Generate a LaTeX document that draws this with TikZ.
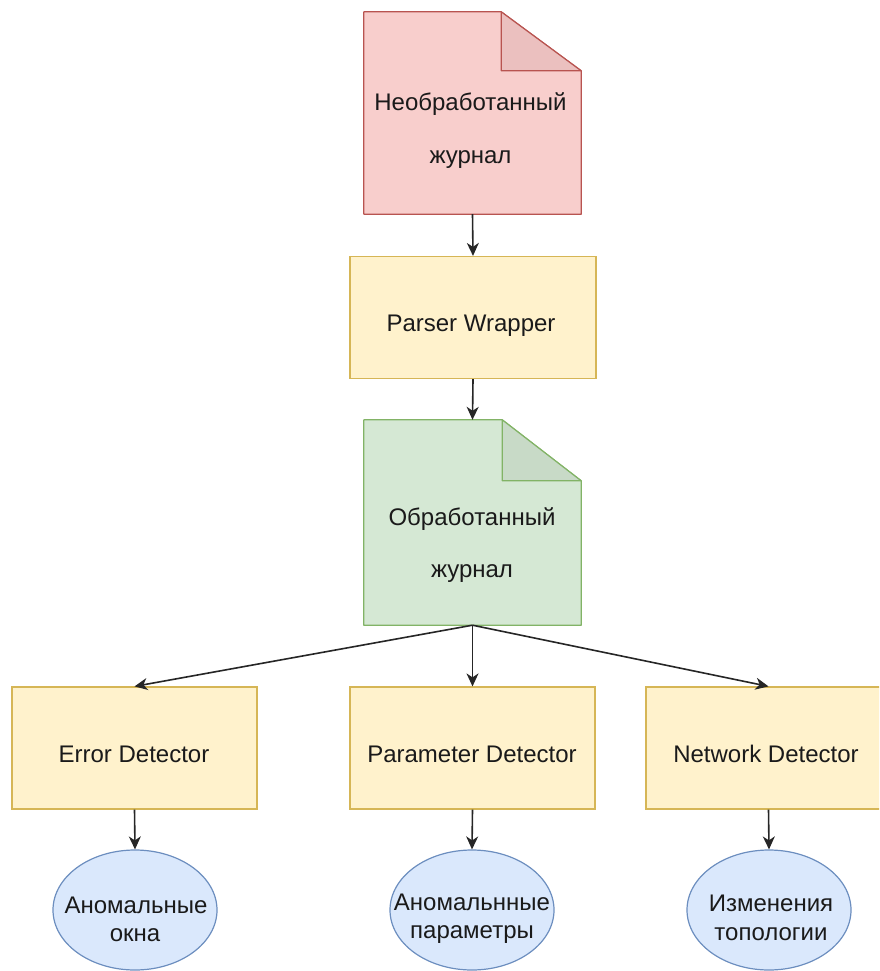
\documentclass[tikz,border=0pt]{standalone}
\usepackage{fontspec}
\setmainfont{Liberation Sans}
\usetikzlibrary{arrows.meta,shapes.geometric}
\definecolor{redfill}{HTML}{F8CECC}
\definecolor{redline}{HTML}{B85450}
\definecolor{redfold}{HTML}{EBC0BF}
\definecolor{greenfill}{HTML}{D5E8D4}
\definecolor{greenline}{HTML}{82B366}
\definecolor{greenfold}{HTML}{C8DAC7}
\definecolor{yelfill}{HTML}{FFF2CC}
\definecolor{yelline}{HTML}{D6B656}
\definecolor{bluefill}{HTML}{DAE8FC}
\definecolor{blueline}{HTML}{6C8EBF}
\definecolor{txt}{HTML}{1A1A1A}
\tikzset{
  docarea/.style={rectangle,draw=none,inner sep=0pt,minimum width=217pt},
  procbox/.style={rectangle,draw=yelline,fill=yelfill,line width=1.2pt,inner sep=0pt,minimum height=122pt},
  resultell/.style={ellipse,draw=blueline,fill=bluefill,line width=1.2pt,inner sep=0pt,minimum width=164pt,minimum height=120pt},
  lbl/.style={anchor=base,inner sep=0pt,text=txt,font=\fontsize{24}{28}\selectfont},
  conn/.style={draw=black!85,line width=1.6pt,-{Stealth[length=13pt,width=12pt,inset=4pt]}},
}
\begin{document}
\begin{tikzpicture}[x=1pt,y=-1pt]
\useasboundingbox (0,0) rectangle (879,971);
\clip (0,0) rectangle (879,971);

% raw log document
\node[docarea,minimum height=202pt] (raw) at (472.5,113) {};
\draw[draw=redline,fill=redfill,line width=1.2pt,line join=round]
  (raw.south west) -- (raw.north west) -- ([xshift=-80pt]raw.north east)
  -- ([yshift=-59pt]raw.north east) -- (raw.south east) -- cycle;
\draw[draw=redline,fill=redfold,line width=1.2pt,line join=round]
  ([xshift=-80pt]raw.north east) -- ([xshift=-80pt,yshift=-59pt]raw.north east)
  -- ([yshift=-59pt]raw.north east) -- cycle;
\node[lbl] (rawa) at (470.5,111) {Необработанный};
\node[lbl] (rawb) at (470.5,163) {журнал};

% parser
\node[procbox,minimum width=246pt] (parser) at (473,317.5) {};
\node[lbl] (parsert) at (471,331) {Parser Wrapper};

% processed log document
\node[docarea,minimum height=205pt] (proc) at (472.5,522.5) {};
\draw[draw=greenline,fill=greenfill,line width=1.2pt,line join=round]
  (proc.south west) -- (proc.north west) -- ([xshift=-79pt]proc.north east)
  -- ([yshift=-61pt]proc.north east) -- (proc.south east) -- cycle;
\draw[draw=greenline,fill=greenfold,line width=1.2pt,line join=round]
  ([xshift=-79pt]proc.north east) -- ([xshift=-79pt,yshift=-61pt]proc.north east)
  -- ([yshift=-61pt]proc.north east) -- cycle;
\node[lbl] (proca) at (472,525) {Обработанный};
\node[lbl] (procb) at (472,577) {журнал};

% detectors
\node[procbox,minimum width=245pt] (err) at (134.5,748) {};
\node[lbl] (errt) at (134,762) {Error Detector};
\node[procbox,minimum width=245pt] (par) at (472.5,748) {};
\node[lbl] (part) at (472,762) {Parameter Detector};
\node[procbox,minimum width=245pt] (net) at (768.5,748) {};
\node[lbl] (nett) at (766,762) {Network Detector};

% results
\node[resultell] (e1) at (135,910) {};
\node[lbl] (e1a) at (136,913) {Аномальные};
\node[lbl] (e1b) at (135,941.5) {окна};
\node[resultell] (e2) at (472,910) {};
\node[lbl] (e2a) at (472,910) {Аномальнные};
\node[lbl] (e2b) at (472,938.5) {параметры};
\node[resultell] (e3) at (769,910) {};
\node[lbl] (e3a) at (771,911.5) {Изменения};
\node[lbl] (e3b) at (771,940) {топологии};

% connectors
\draw[conn] (raw.south) -- (parser.north);
\draw[conn] (parser.south) -- (proc.north);
\draw[conn] (proc.south) -- (err.north);
\draw[conn] (proc.south) -- (par.north);
\draw[conn] (proc.south) -- (net.north);
\draw[conn] (err.south) -- (e1.north);
\draw[conn] (par.south) -- (e2.north);
\draw[conn] (net.south) -- (e3.north);
\end{tikzpicture}
\end{document}
